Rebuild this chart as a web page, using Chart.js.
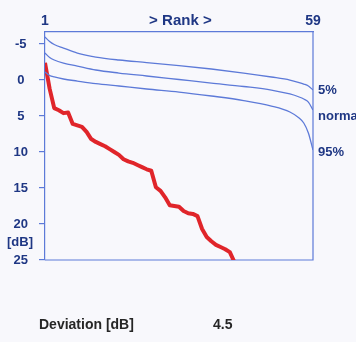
<!DOCTYPE html>
<html>
<head>
<meta charset="utf-8">
<script src="https://cdn.jsdelivr.net/npm/chart.js@4.4.1/dist/chart.umd.min.js"></script>
<style>
  html, body { margin: 0; padding: 0; background: #f8f8fc; }
  #wrap { position: relative; width: 356px; height: 342px; }
</style>
</head>
<body>
<div id="wrap"><canvas id="chart"></canvas></div>
<script>
// rank axis (top) and dB axis (left, reversed)
const rankTicks = [1, 30.3, 59];
const rankLabels = ['1', '> Rank >', '59'];
const dbTicks = [-5, 0, 5, 10, 15, 20, 25];

// measured deviations, one per rank (runs off the bottom after rank 41)
const redValues = [-2.4, 1.2, 3.9, 4.2, 4.6, 4.5, 6.1, 6.3, 6.5, 7.2, 8.2, 8.6, 8.9, 9.2, 9.6, 10.0,
  10.4, 11.0, 11.3, 11.5, 11.8, 12.1, 12.4, 12.6, 14.9, 15.4, 16.3, 17.4, 17.5, 17.6, 18.2, 18.5,
  18.6, 18.9, 20.7, 21.8, 22.4, 22.9, 23.2, 23.5, 23.9, 25.3];

// reference curves, read at these ranks
const curveRanks = [1, 2, 3, 5, 8, 12, 17, 23, 30, 37, 44, 50, 54, 56, 57, 58, 59];
const upperValues = [-5.97, -5.35, -4.93, -4.44, -3.75, -3.19, -2.78, -2.43, -2.01, -1.53, -0.97, -0.42, 0.0, 0.35, 0.56, 0.83, 1.39];
const normalValues = [-3.75, -3.13, -2.78, -2.36, -1.94, -1.39, -0.97, -0.56, -0.07, 0.42, 0.9, 1.39, 1.94, 2.36, 2.64, 3.06, 4.17];
const lowerValues = [-1.11, -0.63, -0.42, -0.14, 0.14, 0.49, 0.83, 1.25, 1.67, 2.22, 2.85, 3.61, 4.44, 5.28, 5.97, 7.36, 9.72];

const curveLabels = ['5%', 'normal', '95%'];
const curveLabelAt = [1.5, 5.0, 10.0];
const unitLabel = '[dB]';
const unitLabelAt = 22.6;
const deviationLabel = 'Deviation [dB]';
const deviationValue = '4.5';

const navy = '#1f3784';
const lineBlue = '#5d7ad8';
const red = '#e0252a';
const fontFamily = '"Liberation Sans", Arial, sans-serif';

const toPoints = (xs, ys) => ys.map((y, i) => ({ x: xs[i], y }));

const frame = {
  id: 'frame',
  beforeDatasetsDraw(chart) {
    const { ctx, chartArea: a } = chart;
    ctx.save();
    ctx.strokeStyle = lineBlue;
    ctx.lineWidth = 1.2;
    ctx.beginPath();
    ctx.moveTo(a.right, a.top);
    ctx.lineTo(a.right, a.bottom);
    ctx.lineTo(a.left, a.bottom);
    ctx.stroke();
    ctx.restore();
  },
  afterDraw(chart) {
    const { ctx, chartArea: a, scales } = chart;
    ctx.save();
    ctx.fillStyle = navy;
    ctx.font = `bold 13px ${fontFamily}`;
    ctx.textBaseline = 'middle';
    ctx.textAlign = 'left';
    curveLabels.forEach((label, i) => {
      ctx.fillText(label, a.right + 5, scales.y.getPixelForValue(curveLabelAt[i]));
    });
    ctx.textAlign = 'center';
    ctx.fillText(unitLabel, 20, scales.y.getPixelForValue(unitLabelAt));

    ctx.fillStyle = '#262626';
    ctx.font = `bold 14px ${fontFamily}`;
    ctx.textAlign = 'left';
    ctx.fillText(deviationLabel, 39, 325);
    ctx.fillText(deviationValue, 213, 325);
    ctx.restore();
  }
};

new Chart(document.getElementById('chart'), {
  type: 'line',
  data: {
    datasets: [
      { data: toPoints(curveRanks, upperValues), borderColor: lineBlue, borderWidth: 1.3, cubicInterpolationMode: 'monotone' },
      { data: toPoints(curveRanks, normalValues), borderColor: lineBlue, borderWidth: 1.3, cubicInterpolationMode: 'monotone' },
      { data: toPoints(curveRanks, lowerValues), borderColor: lineBlue, borderWidth: 1.3, cubicInterpolationMode: 'monotone' },
      { data: redValues.map((v, i) => ({ x: i + 1, y: v })), borderColor: red, borderWidth: 4, tension: 0, borderJoinStyle: 'round' }
    ]
  },
  options: {
    responsive: true,
    maintainAspectRatio: false,
    animation: false,
    elements: { point: { radius: 0 } },
    layout: { padding: { left: 0, top: 0, right: 43, bottom: 82 } },
    plugins: { legend: { display: false }, tooltip: { enabled: false } },
    scales: {
      x: {
        type: 'linear',
        position: 'top',
        min: 1,
        max: 59,
        afterFit: (s) => { s.height = 32; },
        afterBuildTicks: (s) => { s.ticks = rankTicks.map((value) => ({ value })); },
        grid: { display: false, drawTicks: false },
        border: { color: lineBlue, width: 1.2 },
        ticks: {
          autoSkip: false,
          maxRotation: 0,
          padding: 2,
          color: navy,
          font: (c) => ({ family: fontFamily, weight: 'bold', size: c.index === 1 ? 15 : 14 }),
          callback: (v, i) => rankLabels[i]
        }
      },
      y: {
        type: 'linear',
        reverse: true,
        min: -6.67,
        max: 25,
        afterFit: (s) => { s.width = 45; },
        afterBuildTicks: (s) => { s.ticks = dbTicks.map((value) => ({ value })); },
        grid: { drawOnChartArea: false, drawTicks: true, tickLength: 6, color: lineBlue, lineWidth: 1.2 },
        border: { color: lineBlue, width: 1.2 },
        ticks: {
          padding: 11,
          crossAlign: 'center',
          color: navy,
          font: { family: fontFamily, weight: 'bold', size: 13 }
        }
      }
    }
  },
  plugins: [frame]
});
</script>
</body>
</html>
